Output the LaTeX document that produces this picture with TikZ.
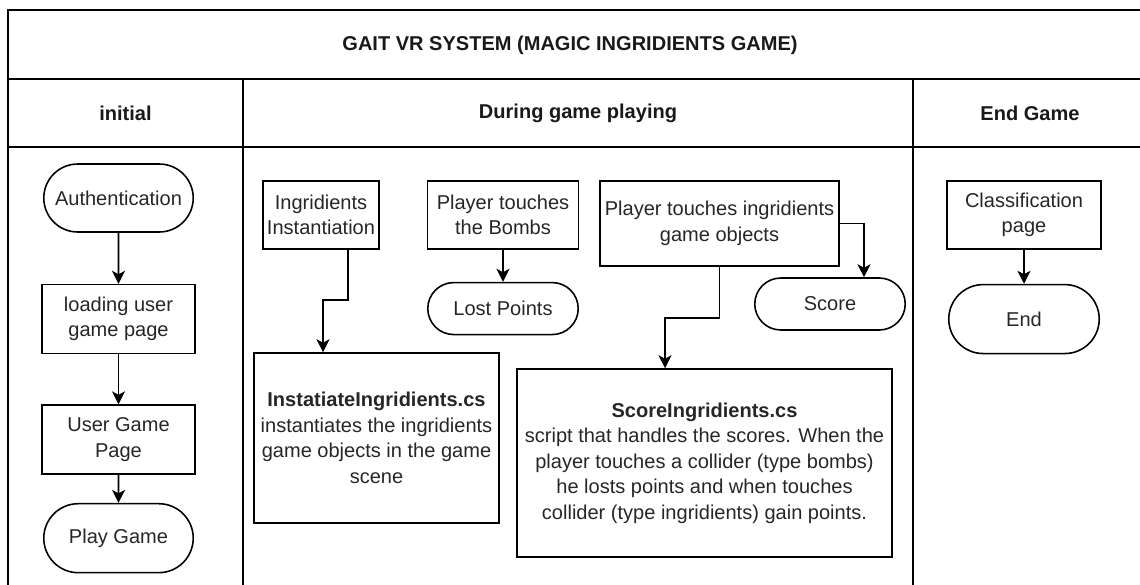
\documentclass[tikz,border=0pt]{standalone}
\usepackage{fontspec}
\setmainfont{Liberation Sans}
\usetikzlibrary{arrows.meta,positioning,shapes.misc}

\begin{document}
\begin{tikzpicture}[x=0.02cm, y=-0.02cm, >={Stealth[length=2.6mm,width=2.6mm,inset=0.7mm]}, line width=0.9pt, font=\fontsize{11.4}{14.5}\selectfont]
\tikzstyle{box}=[draw=black, align=center, inner sep=1pt, text=black!85]
\tikzstyle{term}=[box, rounded rectangle]
\tikzstyle{lane}=[font=\fontsize{11.4}{14.5}\selectfont\bfseries, text=black!90]
\clip (0,0) rectangle (1140,585);
% swimlanes
\draw (8,10) rectangle (1147,595);
\draw (8,79) -- (1147,79);
\draw (8,147) -- (1147,147);
\draw (243,79) -- (243,595);
\draw (913,79) -- (913,595);
\node[lane] (title) at (570,45) {GAIT VR SYSTEM (MAGIC INGRIDIENTS GAME)};
\node[lane] (hinit) at (125.5,113) {initial};
\node[lane] (hplay) at (578,113) {During game playing};
\node[lane] (hend) at (1030,113) {End Game};
% initial
\node[term, minimum width=3.06cm, minimum height=1.36cm] (auth) at (118.5,198) {Authentication};
\node[box, minimum width=3.06cm, minimum height=1.38cm] (load) [below=1.02cm of auth] {loading user\\game page};
\node[box, minimum width=3.06cm, minimum height=1.38cm] (ugp) [below=1.0cm of load] {User Game\\Page};
\node[term, minimum width=3.06cm, minimum height=1.38cm] (play) [below=0.56cm of ugp] {Play Game};
% during game playing
\node[box, minimum width=2.32cm, minimum height=1.36cm] (inst) at (321,215) {Ingridients\\Instantiation};
\node[box, minimum width=3.02cm, minimum height=1.36cm] (bombs) at (503,215) {Player touches\\the Bombs};
\node[term, minimum width=3.08cm, minimum height=1.04cm] (lost) [below=0.64cm of bombs] {Lost Points};
\node[box, minimum width=4.78cm, minimum height=1.7cm] (touch) at (719.5,223.5) {Player touches ingridients\\game objects};
\node[term, minimum width=3.08cm, minimum height=1.04cm] (score) at (830,304) {Score};
\node[box, minimum width=4.9cm, minimum height=3.4cm] (instcs) at (376.5,438) {\textbf{InstatiateIngridients.cs}\\instantiates the ingridients\\game objects in the game\\scene};
\node[box, minimum width=7.5cm, minimum height=3.76cm] (scorecs) at (704.5,463) {\textbf{ScoreIngridients.cs}\\script that handles the scores. When the\\player touches a collider (type bombs)\\he losts points and when touches\\collider (type ingridients) gain points.};
% end game
\node[box, minimum width=3.08cm, minimum height=1.36cm] (classif) at (1024,215) {Classification\\page};
\node[term, minimum width=3.08cm, minimum height=1.38cm] (endn) [below=0.68cm of classif] {End};
\path[->]
(auth) edge (load)
(load) edge (ugp)
(ugp) edge (play)
(bombs) edge (lost)
(classif) edge (endn);
\draw[->] ([xshift=0.54cm]inst.south) -- ++(0,50) -| ([xshift=-1.07cm]instcs.north);
\draw[->] (touch.south) -- ++(0,51) -| ([xshift=-0.79cm]scorecs.north);
\draw[->] (touch.east) -| ([xshift=0.68cm]score.north);
\end{tikzpicture}
\end{document}
